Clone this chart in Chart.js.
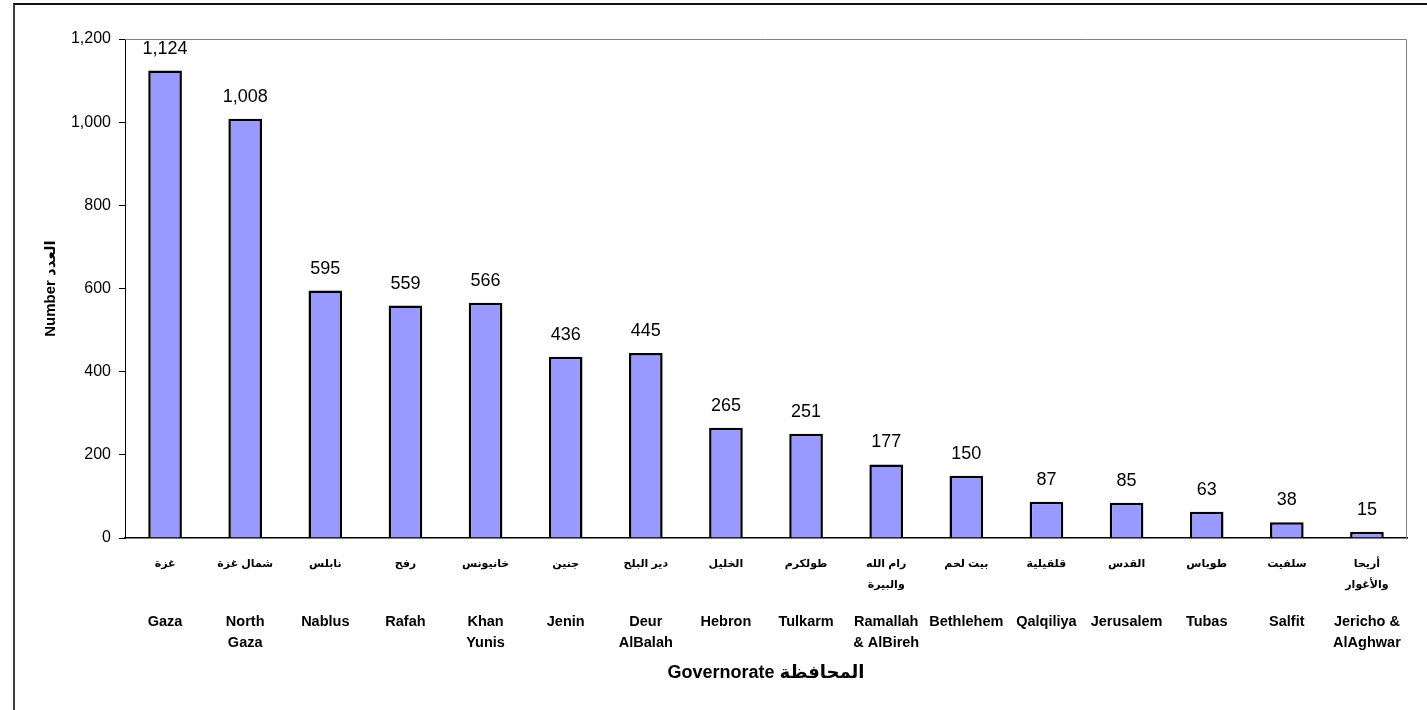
<!DOCTYPE html>
<html lang="en">

<head>
    <meta charset="UTF-8">
    <title>Governorate counts</title>
    <style>
        body {
            margin: 0;
            background: #fff;
            overflow: hidden;
        }

        .chart-wrap {
            position: absolute;
            left: 0;
            top: 0;
            width: 1427px;
            height: 710px;
        }

        /* outer frame, runs off the right and bottom edges */
        .frame {
            position: absolute;
            left: 13px;
            top: 3px;
            width: 1440px;
            height: 740px;
            border-left: 2px solid #404040;
            border-top: 2px solid #111;
            pointer-events: none;
        }
    </style>
    <script src="https://cdn.jsdelivr.net/npm/chart.js"></script>
</head>

<body>
    <div class="chart-wrap">
        <canvas id="govChart"></canvas>
    </div>
    <div class="frame"></div>

    <script>
        const arabicNames = ['غزة', 'شمال غزة', 'نابلس', 'رفح', 'خانيونس', 'جنين', 'دير البلح', 'الخليل', 'طولكرم',
            ['رام الله', 'والبيرة'], 'بيت لحم', 'قلقيلية', 'القدس', 'طوباس', 'سلفيت', ['أريحا', 'والأغوار']];
        const englishNames = ['Gaza', ['North', 'Gaza'], 'Nablus', 'Rafah', ['Khan', 'Yunis'], 'Jenin', ['Deur', 'AlBalah'],
            'Hebron', 'Tulkarm', ['Ramallah', '& AlBireh'], 'Bethlehem', 'Qalqiliya', 'Jerusalem', 'Tubas', 'Salfit',
            ['Jericho &', 'AlAghwar']];
        const counts = [1124, 1008, 595, 559, 566, 436, 445, 265, 251, 177, 150, 87, 85, 63, 38, 15];
        const yTicks = [0, 200, 400, 600, 800, 1000, 1200];

        const FONT = "'Liberation Sans', Arial, 'DejaVu Sans', sans-serif";
        const fmt = v => Number(v).toLocaleString('en-US');

        // grey frame on top and right of the plot area
        const plotFrame = {
            id: 'plotFrame',
            afterDraw(chart) {
                const { ctx, chartArea: a } = chart;
                ctx.save();
                ctx.strokeStyle = '#808080';
                ctx.lineWidth = 1;
                ctx.beginPath();
                ctx.moveTo(a.left, a.top + 0.5);
                ctx.lineTo(a.right - 0.5, a.top + 0.5);
                ctx.lineTo(a.right - 0.5, a.bottom);
                ctx.stroke();
                ctx.restore();
            }
        };

        // value above every bar
        const barValues = {
            id: 'barValues',
            afterDatasetsDraw(chart) {
                const { ctx } = chart;
                const meta = chart.getDatasetMeta(0);
                ctx.save();
                ctx.font = '18px ' + FONT;
                ctx.fillStyle = '#000';
                ctx.textAlign = 'center';
                ctx.textBaseline = 'middle';
                meta.data.forEach((bar, i) => {
                    ctx.fillText(fmt(counts[i]), bar.x, bar.y - 22);
                });
                ctx.restore();
            }
        };

        new Chart(document.getElementById('govChart'), {
            type: 'bar',
            data: {
                labels: arabicNames,
                datasets: [{
                    data: counts,
                    backgroundColor: '#9999FF',
                    borderColor: '#000',
                    borderWidth: 2.5,
                    barPercentage: 0.42,
                    categoryPercentage: 1.0
                }]
            },
            options: {
                responsive: true,
                maintainAspectRatio: false,
                animation: false,
                layout: { padding: { top: 39, right: 20, bottom: 0, left: 0 } },
                plugins: {
                    legend: { display: false },
                    tooltip: { enabled: false }
                },
                scales: {
                    x: {
                        position: 'bottom',
                        weight: 0,
                        grid: { display: false, drawTicks: false },
                        border: { display: true, color: '#000', width: 1.5 },
                        ticks: {
                            color: '#000',
                            padding: 15,
                            maxRotation: 0,
                            autoSkip: false,
                            font: { family: FONT, size: 11, weight: 'bold', lineHeight: '21px' }
                        },
                        afterFit(scale) { scale.height = 60; }
                    },
                    x2: {
                        type: 'category',
                        labels: englishNames,
                        position: 'bottom',
                        weight: 1,
                        offset: true,
                        grid: { display: false, drawTicks: false },
                        border: { display: false },
                        ticks: {
                            color: '#000',
                            padding: 13.5,
                            maxRotation: 0,
                            autoSkip: false,
                            font: { family: FONT, size: 14.5, weight: 'bold', lineHeight: '21px' }
                        },
                        title: {
                            display: true,
                            text: 'Governorate المحافظة',
                            color: '#000',
                            font: { family: FONT, size: 18, weight: 'bold', lineHeight: 1.2 },
                            padding: { top: 0, bottom: 26 }
                        },
                        afterFit(scale) { scale.height = 112; }
                    },
                    y: {
                        min: 0,
                        max: 1200,
                        afterBuildTicks(scale) {
                            scale.ticks = yTicks.map(v => ({ value: v }));
                        },
                        grid: {
                            drawOnChartArea: false,
                            drawTicks: true,
                            tickLength: 6,
                            color: '#000'
                        },
                        border: { display: true, color: '#000', width: 1 },
                        ticks: {
                            color: '#000',
                            padding: 8,
                            font: { family: FONT, size: 16 },
                            callback: v => fmt(v)
                        },
                        title: {
                            display: true,
                            text: 'Number العدد',
                            color: '#000',
                            font: { family: FONT, size: 15, weight: 'bold', lineHeight: 1.2 },
                            padding: { top: 42, bottom: 0 }
                        },
                        afterFit(scale) { scale.width = 125; }
                    }
                }
            },
            plugins: [plotFrame, barValues]
        });
    </script>
</body>

</html>
